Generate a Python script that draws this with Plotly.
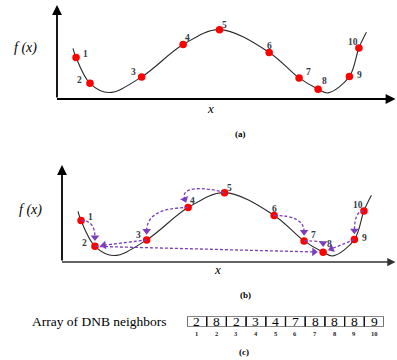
import math
import plotly.graph_objects as go

# ---------------- data ----------------
point_ids = [1, 2, 3, 4, 5, 6, 7, 8, 9, 10]
x_pts = [0.56, 0.97, 2.49, 3.71, 4.78, 6.24, 7.12, 7.68, 8.60, 8.88]
f_pts = [1.22, 0.46, 0.65, 1.60, 2.04, 1.37, 0.62, 0.29, 0.66, 1.50]

curve_x = [0.47, 0.56, 0.97, 1.53, 2.49, 3.71, 4.78, 6.24, 7.12, 7.68, 7.97, 8.60, 8.88, 9.10]
curve_f = [1.49, 1.22, 0.46, 0.19, 0.65, 1.60, 2.04, 1.37, 0.62, 0.29, 0.18, 0.66, 1.50, 1.96]

dnb_neighbors = [2, 8, 2, 3, 4, 7, 8, 8, 8, 9]
array_label = "Array of DNB neighbors"

# ---------------- styling ----------------
W, H = 397, 360
SCALE = 34.0  # px per data unit (both axes)
arrow_style = ['elbow', 'straight', 'straight', 'elbow', 'loop',
               'elbow', 'elbow', None, 'straight', 'elbow']
label_dx = [9, -10, -8, 4, 5, 0, 9, 6, 10, -6]
label_dy = [-4, -3, -5, -7, -5, -6, -6, -8, -2, -6]
RED = '#ff0000'
PURPLE = '#7b3fbe'
NUMCOL = '#343c4a'
SERIF = 'Liberation Serif'


def paper(x, y):
    return x / W, 1 - y / H


fig = go.Figure()

panels = [
    dict(xa='x', ya='y', xdom=[57 / W, 1], ydom=[1 - 99 / H, 1 - 5 / H],
         xr=[0, 340 / SCALE], yr=[0, 94 / SCALE]),
    dict(xa='x2', ya='y2', xdom=[62 / W, 1], ydom=[1 - 262 / H, 1 - 165 / H],
         xr=[0, 335 / SCALE], yr=[0, 97 / SCALE]),
]

layout_axes = {}
annotations = []
shapes = []

for k, p in enumerate(panels):
    xname = 'xaxis' if k == 0 else 'xaxis%d' % (k + 1)
    yname = 'yaxis' if k == 0 else 'yaxis%d' % (k + 1)
    layout_axes[xname] = dict(domain=p['xdom'], range=p['xr'], visible=False,
                              fixedrange=True, anchor=p['ya'])
    layout_axes[yname] = dict(domain=p['ydom'], range=p['yr'], visible=False,
                              fixedrange=True, anchor=p['xa'])
    fig.add_trace(go.Scatter(x=curve_x, y=curve_f, mode='lines',
                             line=dict(color='#2b2b2b', width=1.1, shape='spline', smoothing=1.0),
                             xaxis=p['xa'], yaxis=p['ya'], hoverinfo='skip', showlegend=False))
    hpx = (p['ydom'][1] - p['ydom'][0]) * H
    wpx = (p['xdom'][1] - p['xdom'][0]) * W
    annotations.append(dict(x=0, y=1, xref=p['xa'] + ' domain', yref=p['ya'] + ' domain',
                            ax=0, ay=hpx, text='', showarrow=True, arrowhead=2,
                            arrowsize=1.1, arrowwidth=1.8, arrowcolor='black', standoff=0))
    annotations.append(dict(x=1 - 1.5 / wpx, y=0, xref=p['xa'] + ' domain', yref=p['ya'] + ' domain',
                            ax=-wpx, ay=0, text='', showarrow=True, arrowhead=2,
                            arrowsize=1.1, arrowwidth=1.8 if k == 0 else 1.5,
                            arrowcolor='black' if k == 0 else '#333333', standoff=0))
    for i, pid in enumerate(point_ids):
        annotations.append(dict(x=x_pts[i], y=f_pts[i], xref=p['xa'], yref=p['ya'],
                                xshift=label_dx[i], yshift=-label_dy[i], text='<b>%d</b>' % pid,
                                showarrow=False, font=dict(family=SERIF, size=9.5, color=NUMCOL)))

# ---- DNB arrows in panel (b) ----
tri_x, tri_y, tri_ang = [], [], []
GAP = 9.0
for i, t in enumerate(dnb_neighbors):
    st = arrow_style[i]
    if st is None or t == point_ids[i]:
        continue
    j = point_ids.index(t)
    xs, fs = x_pts[i], f_pts[i]
    xt, ft = x_pts[j], f_pts[j]
    if st == 'straight':
        cx, cf = xs, fs
    elif st == 'elbow':
        cx, cf = xt, fs
    else:  # loop
        c1 = (xs - 0.6, fs + 0.18)
        cx, cf = xt - 0.25, fs + 0.18
    dx, dy = (xt - cx) * SCALE, (ft - cf) * SCALE
    n = math.hypot(dx, dy)
    ux, uy = dx / n, dy / n
    ex, ef = xt - GAP * ux / SCALE, ft - GAP * uy / SCALE
    if st == 'straight':
        path = 'M %.4f,%.4f L %.4f,%.4f' % (xs, fs, ex, ef)
    elif st == 'elbow':
        path = 'M %.4f,%.4f Q %.4f,%.4f %.4f,%.4f' % (xs, fs, cx, cf, ex, ef)
    else:
        path = 'M %.4f,%.4f C %.4f,%.4f %.4f,%.4f %.4f,%.4f' % (xs, fs, c1[0], c1[1], cx, cf, ex, ef)
    shapes.append(dict(type='path', path=path, xref='x2', yref='y2', layer='above',
                       line=dict(color=PURPLE, width=1.3, dash='3px,2px')))
    tri_x.append(ex)
    tri_y.append(ef)
    tri_ang.append(math.degrees(math.atan2(ux, uy)))

fig.add_trace(go.Scatter(x=tri_x, y=tri_y, mode='markers', xaxis='x2', yaxis='y2',
                         marker=dict(symbol='triangle-up', size=7.5, color=PURPLE, angle=tri_ang,
                                     line=dict(width=0)),
                         hoverinfo='skip', showlegend=False))

for p in panels:
    fig.add_trace(go.Scatter(x=x_pts, y=f_pts, mode='markers', xaxis=p['xa'], yaxis=p['ya'],
                             marker=dict(symbol='circle', size=7.5, color=RED, line=dict(width=0)),
                             hoverinfo='skip', showlegend=False))

# ---- panel (c): array table ----
layout_axes['xaxis3'] = dict(domain=[187 / W, 384 / W], range=[0.5, 10.5], visible=False,
                             fixedrange=True, anchor='y3')
layout_axes['yaxis3'] = dict(domain=[1 - 326.5 / H, 1 - 316.5 / H], range=[0, 1], visible=False,
                             fixedrange=True, anchor='x3')
for i, v in enumerate(dnb_neighbors):
    idx = point_ids[i]
    shapes.append(dict(type='rect', xref='x3', yref='y3', x0=idx - 0.5, x1=idx + 0.5, y0=0, y1=1,
                       line=dict(color='#111111', width=1.2)))
    annotations.append(dict(x=idx, y=0.5, xref='x3', yref='y3', text=str(v), showarrow=False,
                            font=dict(family=SERIF, size=13.5, color='black')))
    annotations.append(dict(x=idx, y=0, xref='x3', yref='y3', yshift=-7, text='<b>%d</b>' % idx,
                            showarrow=False, font=dict(family=SERIF, size=6.5, color='#222222')))


def txt(x, y, s, size, bold=False, italic=False):
    px, py = paper(x, y)
    if italic:
        s = '<i>%s</i>' % s
    if bold:
        s = '<b>%s</b>' % s
    annotations.append(dict(x=px, y=py, xref='paper', yref='paper', text=s, showarrow=False,
                            xanchor='center', yanchor='middle',
                            font=dict(family=SERIF, size=size, color='black')))


txt(25, 48, 'f (x)', 14, italic=True)
txt(30, 210, 'f (x)', 14, italic=True)
txt(210, 108, 'x', 13, italic=True)
txt(217, 269, 'x', 13, italic=True)
txt(240, 134, '(a)', 9, bold=True)
txt(245, 295, '(b)', 9, bold=True)
txt(244, 352, '(c)', 9, bold=True)
txt(99, 321, array_label, 13.5)

fig.update_layout(width=W, height=H, margin=dict(l=0, r=0, t=0, b=0),
                  paper_bgcolor='white', plot_bgcolor='white', showlegend=False,
                  annotations=annotations, shapes=shapes, **layout_axes)

fig.write_html('out.html', config={'displayModeBar': False, 'staticPlot': True},
               post_script="document.body.style.margin='0';document.body.style.overflow='hidden';")
